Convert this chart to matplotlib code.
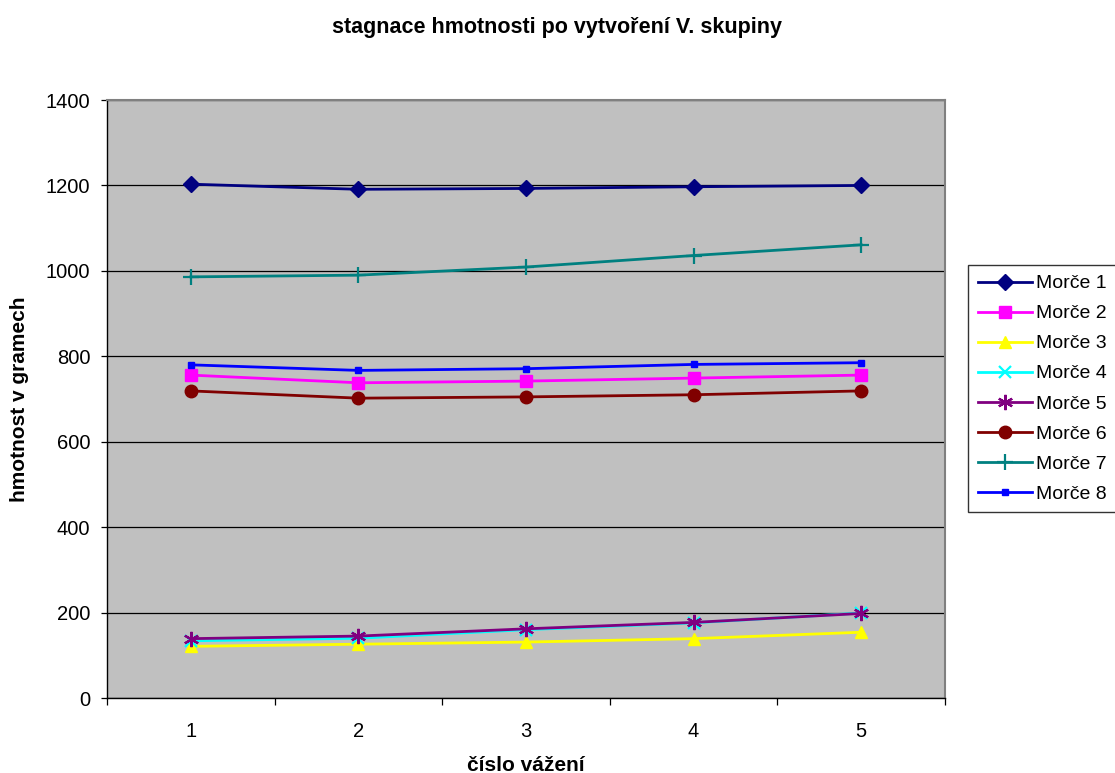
import matplotlib.pyplot as plt
from matplotlib.ticker import FixedLocator, NullFormatter

plt.rcParams['font.family'] = ['Liberation Sans', 'DejaVu Sans']

vazeni = [1, 2, 3, 4, 5]
morce1 = [1203, 1191, 1193, 1197, 1200]
morce2 = [756, 738, 742, 749, 756]
morce3 = [121, 126, 131, 139, 154]
morce4 = [134, 140, 160, 176, 199]
morce5 = [139, 145, 162, 177, 198]
morce6 = [719, 702, 705, 710, 719]
morce7 = [986, 990, 1009, 1036, 1061]
morce8 = [780, 767, 771, 781, 785]

series = [
    ("Morče 1", morce1, "#000080", "D", 8),
    ("Morče 2", morce2, "#FF00FF", "s", 9),
    ("Morče 3", morce3, "#FFFF00", "^", 9),
    ("Morče 4", morce4, "#00FFFF", "x", 9),
    ("Morče 5", morce5, "#800080", (6, 2, 0), 11),
    ("Morče 6", morce6, "#800000", "o", 9),
    ("Morče 7", morce7, "#008080", "+", 12),
    ("Morče 8", morce8, "#0000FF", "s", 4),
]

fig = plt.figure(figsize=(11.15, 7.73), dpi=100)
ax = fig.add_axes([0.096, 0.097, 0.7515, 0.7736])
ax.set_facecolor("#C0C0C0")

for name, vals, color, marker, ms in series:
    thin = marker in ("x", "+") or isinstance(marker, tuple)
    ax.plot(vazeni, vals, color=color, marker=marker, markersize=ms,
            linewidth=2, markeredgewidth=1.6 if thin else 1,
            markeredgecolor=color, markerfacecolor=color, label=name)

ax.set_xlim(0.5, 5.5)
ax.set_ylim(0, 1400)
ax.set_yticks(range(0, 1401, 200))
ax.yaxis.grid(True, color="black", linewidth=0.9)
ax.set_axisbelow(True)

ax.set_xticks(vazeni)
ax.tick_params(axis="x", which="major", length=0, pad=17, labelsize=14.5)
ax.xaxis.set_minor_locator(FixedLocator([0.5, 1.5, 2.5, 3.5, 4.5, 5.5]))
ax.xaxis.set_minor_formatter(NullFormatter())
ax.tick_params(axis="x", which="minor", length=5, width=0.9, color="black", direction="out")
ax.tick_params(axis="y", length=4, width=0.9, pad=8, labelsize=14.5, direction="out")

for side in ("top", "right"):
    ax.spines[side].set_color("#808080")
    ax.spines[side].set_linewidth(1.5)
for side in ("left", "bottom"):
    ax.spines[side].set_color("black")
    ax.spines[side].set_linewidth(1)

ax.set_xlabel("číslo vážení", fontsize=15, fontweight="bold", labelpad=11)
ax.set_ylabel("hmotnost v gramech", fontsize=15, fontweight="bold", labelpad=12)
fig.text(0.5, 1 - 28 / 773, "stagnace hmotnosti po vytvoření V. skupiny",
         fontsize=15.5, fontweight="bold", ha="center", va="center")

leg = ax.legend(loc="upper left", bbox_to_anchor=(968 / 1115, 1 - 265 / 773),
                bbox_transform=fig.transFigure, fontsize=14, frameon=True,
                fancybox=False, edgecolor="black", borderaxespad=0,
                handlelength=2.8, labelspacing=0.64, handletextpad=0.2,
                borderpad=0.5)
leg.get_frame().set_linewidth(1)

fig.savefig("out.png", dpi=100)
